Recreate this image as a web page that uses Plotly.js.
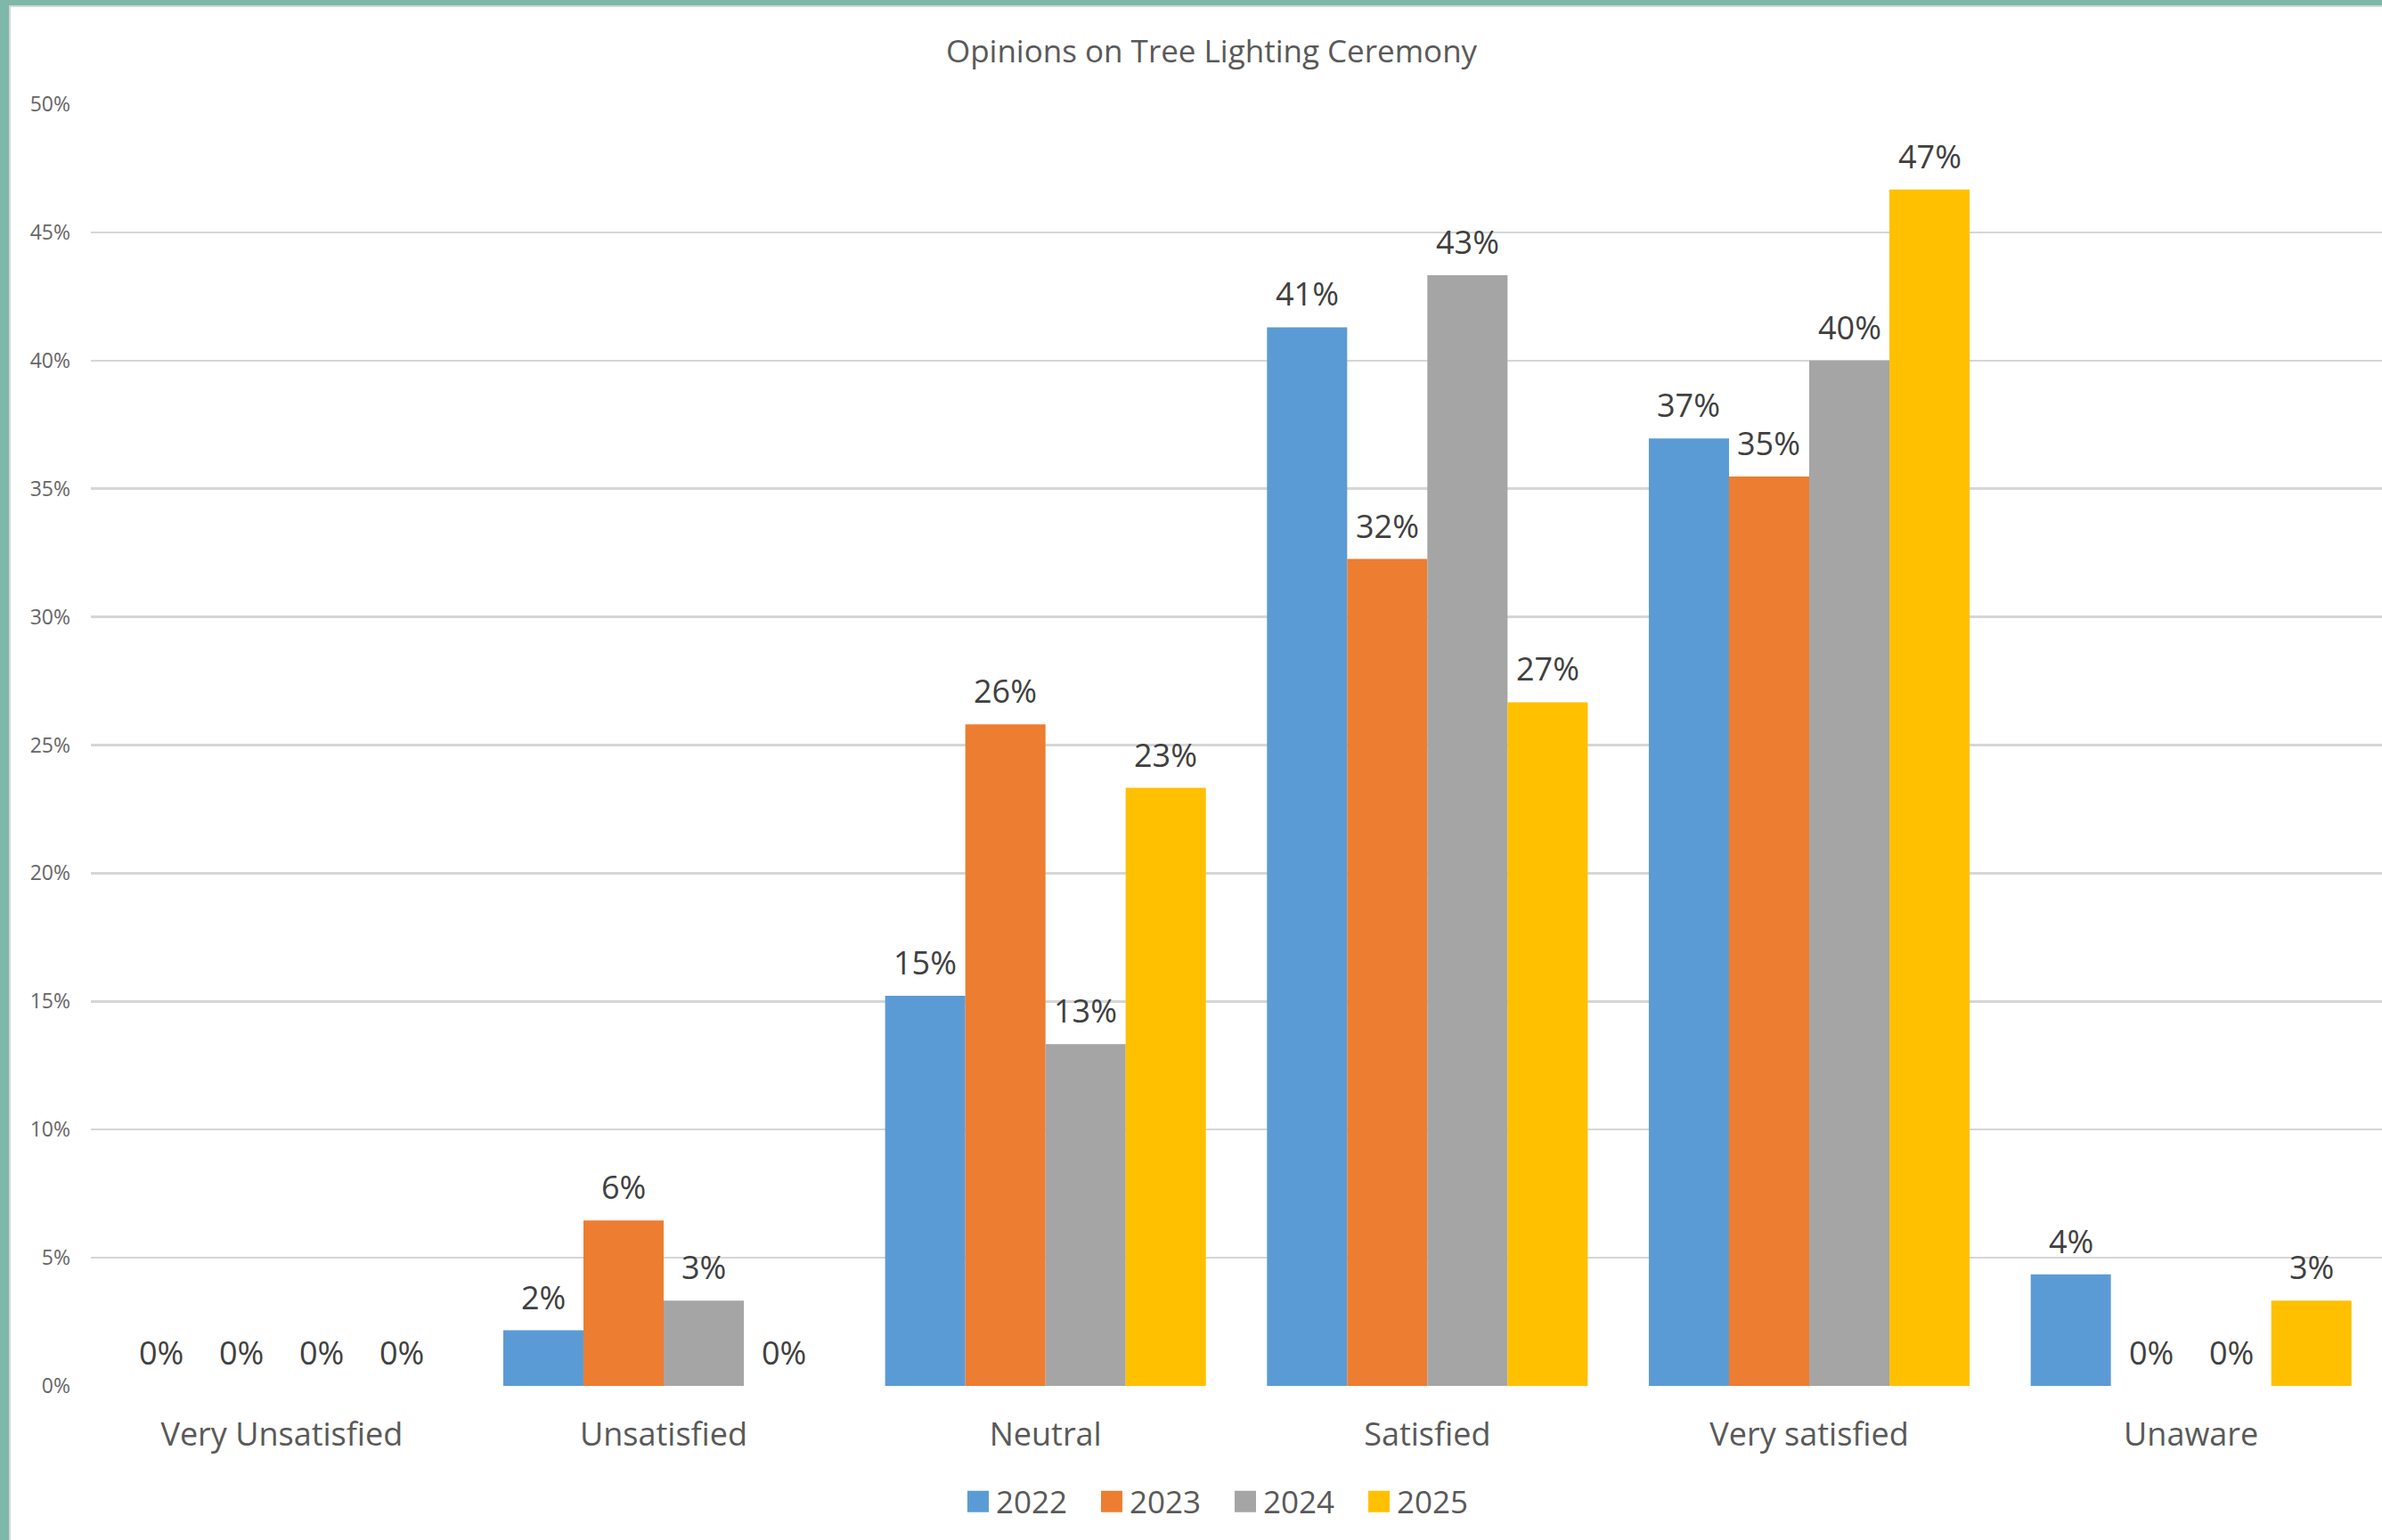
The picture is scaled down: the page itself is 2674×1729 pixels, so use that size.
<!DOCTYPE html>
<html>
<head>
<meta charset="utf-8">
<script src="https://cdn.plot.ly/plotly-3.0.1.min.js"></script>
<style>
  html, body { margin: 0; padding: 0; width: 2674px; height: 1729px; overflow: hidden; background: #7db8a9; }
  #frame {
    position: absolute; left: 10px; top: 6px;
    width: 2664px; height: 1723px;
    border-left: 2px solid #d6d6d6; border-top: 2px solid #d6d6d6;
    background: #ffffff;
  }
  #chart { width: 2662px; height: 1721px; }
</style>
</head>
<body>
<div id="frame"><div id="chart"></div></div>
<script>
// Survey responses by satisfaction level, share of respondents per year
const categories = ["Very Unsatisfied", "Unsatisfied", "Neutral", "Satisfied", "Very satisfied", "Unaware"];
const years = ["2022", "2023", "2024", "2025"];

const share2022 = [0, 0.0217, 0.1522, 0.4130, 0.3696, 0.0435];
const share2023 = [0, 0.0645, 0.2581, 0.3226, 0.3548, 0];
const share2024 = [0, 0.0333, 0.1333, 0.4333, 0.4000, 0];
const share2025 = [0, 0, 0.2333, 0.2667, 0.4667, 0.0333];

const yTickValues = [0, 0.05, 0.10, 0.15, 0.20, 0.25, 0.30, 0.35, 0.40, 0.45, 0.50];
const yTickLabels = ["0%", "5%", "10%", "15%", "20%", "25%", "30%", "35%", "40%", "45%", "50%"];

const seriesValues = [share2022, share2023, share2024, share2025];
const seriesColors = ["#5b9bd5", "#ed7d31", "#a5a5a5", "#ffc000"];

const FONT = "Open Sans, Noto Sans, sans-serif";
const BAR_GAP = 0.16;

const traces = years.map((yr, i) => ({
  type: "bar",
  name: yr,
  x: categories,
  y: seriesValues[i],
  marker: { color: seriesColors[i], line: { width: 0 } },
  hoverinfo: "x+y+name"
}));

// Value labels above each bar: placed on the category axis at the centre of
// the bar's slot within its group (each slot is (1 - bargap) / n wide).
const nSeries = years.length;
const slot = (1 - BAR_GAP) / nSeries;
const valueLabels = [];
seriesValues.forEach((vals, s) => {
  vals.forEach((v, c) => {
    valueLabels.push({
      xref: "x", yref: "y",
      x: c + (s - (nSeries - 1) / 2) * slot,
      y: v,
      text: Math.round(v * 100) + "%",
      showarrow: false,
      xanchor: "center", yanchor: "bottom",
      yshift: 11,
      font: { family: FONT, size: 36, color: "#404040" }
    });
  });
});

const layout = {
  width: 2662,
  height: 1721,
  margin: { l: 90, r: 0, t: 109, b: 173, pad: 0 },
  paper_bgcolor: "#ffffff",
  plot_bgcolor: "#ffffff",
  font: { family: FONT, color: "#595959" },
  title: {
    text: "Opinions on Tree Lighting Ceremony",
    font: { family: FONT, size: 35, color: "#595959" },
    xref: "container", x: 0.5064, xanchor: "center",
    yref: "container", y: 0.971, yanchor: "middle"
  },
  barmode: "group",
  bargap: BAR_GAP,
  bargroupgap: 0,
  xaxis: {
    type: "category",
    range: [-0.5, 5.5],
    showgrid: false,
    zeroline: false,
    showline: false,
    ticks: "",
    ticklabelstandoff: 30,
    tickfont: { family: FONT, size: 36, color: "#595959" }
  },
  yaxis: {
    range: [0, 0.5],
    tickvals: yTickValues,
    ticktext: yTickLabels,
    showgrid: true,
    gridcolor: "#d6d6d6",
    gridwidth: 2.5,
    zeroline: false,
    showline: false,
    ticks: "",
    ticklabelstandoff: 22,
    tickfont: { family: FONT, size: 23, color: "#666666" }
  },
  annotations: valueLabels,
  showlegend: true,
  legend: {
    orientation: "h",
    xref: "paper", x: 0.4961, xanchor: "center",
    yref: "paper", y: -0.0903, yanchor: "middle",
    font: { family: FONT, size: 35, color: "#595959" },
    entrywidth: 105,
    entrywidthmode: "pixels",
    itemwidth: 30,
    traceorder: "normal"
  }
};

Plotly.newPlot("chart", traces, layout, { displayModeBar: false, staticPlot: true }).then(gd => {
  // Larger square swatches in the legend
  gd.querySelectorAll(".legend .legendpoints path").forEach(p => {
    const t = p.getAttribute("transform") || "";
    p.setAttribute("transform", t + " scale(2)");
  });
});
</script>
</body>
</html>
